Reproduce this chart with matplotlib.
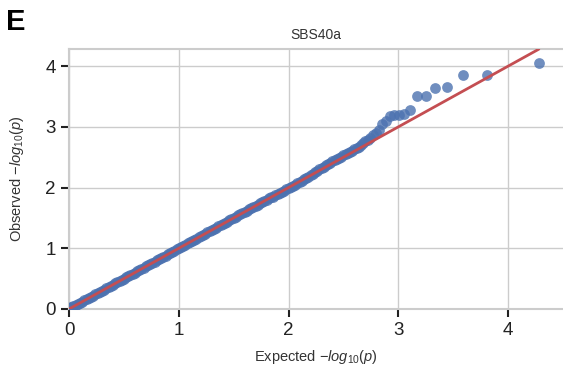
import matplotlib
matplotlib.use("Agg")
import matplotlib.pyplot as plt
import seaborn as sns

# QQ data (expected vs observed -log10 p)
expected_bulk = [0.00, 0.02, 0.04, 0.06, 0.08, 0.10, 0.12, 0.14, 0.16, 0.18,
                 0.20, 0.22, 0.24, 0.26, 0.28, 0.30, 0.32, 0.34, 0.36, 0.38,
                 0.40, 0.42, 0.44, 0.46, 0.48, 0.50, 0.52, 0.54, 0.56, 0.58,
                 0.60, 0.62, 0.64, 0.66, 0.68, 0.70, 0.72, 0.74, 0.76, 0.78,
                 0.80, 0.82, 0.84, 0.86, 0.88, 0.90, 0.92, 0.94, 0.96, 0.98,
                 1.00, 1.02, 1.04, 1.06, 1.08, 1.10, 1.12, 1.14, 1.16, 1.18,
                 1.20, 1.22, 1.24, 1.26, 1.28, 1.30, 1.32, 1.34, 1.36, 1.38,
                 1.40, 1.42, 1.44, 1.46, 1.48, 1.50, 1.52, 1.54, 1.56, 1.58,
                 1.60, 1.62, 1.64, 1.66, 1.68, 1.70, 1.72, 1.74, 1.76, 1.78,
                 1.80, 1.82, 1.84, 1.86, 1.88, 1.90, 1.92, 1.94, 1.96, 1.98,
                 2.00, 2.02, 2.04, 2.06, 2.08, 2.10, 2.12, 2.14, 2.16, 2.18,
                 2.20, 2.22, 2.24, 2.26, 2.28, 2.30, 2.32, 2.34, 2.36, 2.38,
                 2.40, 2.42, 2.44, 2.46, 2.48]
observed_bulk = [0.01, 0.03, 0.05, 0.07, 0.09, 0.10, 0.12, 0.14, 0.16, 0.18,
                 0.20, 0.22, 0.24, 0.26, 0.28, 0.30, 0.32, 0.34, 0.36, 0.38,
                 0.40, 0.42, 0.44, 0.46, 0.48, 0.50, 0.52, 0.54, 0.56, 0.58,
                 0.60, 0.62, 0.64, 0.66, 0.68, 0.70, 0.72, 0.74, 0.76, 0.78,
                 0.80, 0.82, 0.84, 0.86, 0.88, 0.90, 0.92, 0.94, 0.96, 0.98,
                 1.00, 1.02, 1.04, 1.06, 1.08, 1.10, 1.12, 1.14, 1.16, 1.18,
                 1.20, 1.22, 1.24, 1.26, 1.28, 1.30, 1.32, 1.34, 1.36, 1.38,
                 1.40, 1.42, 1.44, 1.46, 1.48, 1.50, 1.52, 1.54, 1.56, 1.58,
                 1.60, 1.62, 1.64, 1.66, 1.68, 1.70, 1.72, 1.74, 1.76, 1.78,
                 1.80, 1.82, 1.84, 1.85, 1.87, 1.89, 1.91, 1.93, 1.95, 1.97,
                 1.99, 2.01, 2.03, 2.05, 2.07, 2.09, 2.11, 2.14, 2.16, 2.18,
                 2.21, 2.23, 2.25, 2.27, 2.30, 2.32, 2.34, 2.37, 2.39, 2.41,
                 2.43, 2.45, 2.47, 2.49, 2.51]

expected_tail = [4.285, 3.81, 3.59, 3.44, 3.33, 3.25, 3.17, 3.11, 3.055, 3.005, 2.96,
                 2.92, 2.89, 2.855, 2.825, 2.795, 2.77, 2.745, 2.72, 2.70, 2.68, 2.66,
                 2.64, 2.62, 2.60, 2.58, 2.56, 2.54, 2.52, 2.50]
observed_tail = [4.05, 3.855, 3.855, 3.65, 3.64, 3.51, 3.51, 3.27, 3.22, 3.20, 3.19,
                 3.18, 3.09, 3.05, 2.95, 2.90, 2.86, 2.82, 2.79, 2.76, 2.73, 2.70,
                 2.67, 2.65, 2.63, 2.61, 2.59, 2.57, 2.55, 2.53]

title = "SBS40a"
panel = "E"

sns.set_theme(style="whitegrid", rc={"xtick.bottom": True, "ytick.left": True,
                                      "axes.edgecolor": ".8", "grid.color": ".8"})
plt.rcParams['font.family'] = ['Liberation Sans', 'DejaVu Sans']
plt.rcParams['mathtext.fontset'] = 'custom'
plt.rcParams['mathtext.rm'] = 'Liberation Sans'
plt.rcParams['mathtext.it'] = 'Liberation Sans:italic'

fig = plt.figure(figsize=(5.63, 3.81), dpi=100)
ax = fig.add_axes([0.1226, 0.189, 0.8774, 0.682])

blue = "#4C72B0"
red = "#C44E52"
ax.scatter(expected_bulk + expected_tail, observed_bulk + observed_tail,
           s=60, color=blue, alpha=0.8, linewidths=0, zorder=3)
ax.axline((0, 0), slope=1, color=red, lw=2, zorder=4)

ax.set_xlim(0, 4.5)
ax.set_ylim(0, 4.28)
ax.set_xticks([0, 1, 2, 3, 4])
ax.set_yticks([0, 1, 2, 3, 4])
ax.tick_params(axis="both", labelsize=13.5, length=6, width=1.5, color="#222222",
               labelcolor="#222222")
ax.spines["right"].set_visible(False)
for s in ax.spines.values():
    s.set_linewidth(1.5)

ax.set_xlabel(r"Expected $-log_{10}(p)$", fontsize=10.5, color="#333333", labelpad=6)
ax.set_ylabel(r"Observed $-log_{10}(p)$", fontsize=10.5, color="#333333", labelpad=14)
ax.set_title(title, fontsize=10, color="#333333", pad=7)
fig.text(0.011, 0.92, panel, fontsize=21, fontweight="bold", color="black")

fig.savefig("out.png", dpi=100)
